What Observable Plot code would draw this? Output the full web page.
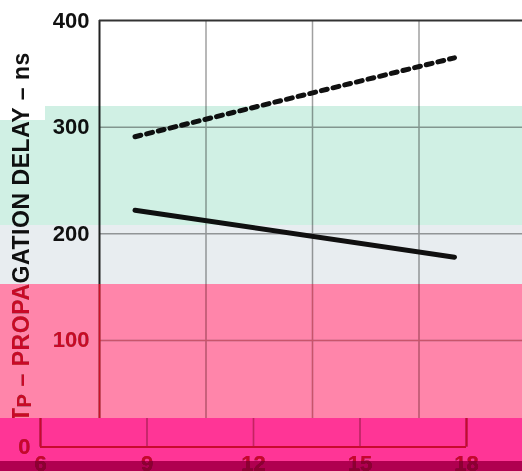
<!DOCTYPE html>
<html><head><meta charset="utf-8">
<script src="https://cdn.jsdelivr.net/npm/d3@7"></script>
<script src="https://cdn.jsdelivr.net/npm/@observablehq/plot@0.6"></script>
<style>
html,body{margin:0;padding:0;background:#fff;}
#wrap{position:relative;width:522px;height:471px;overflow:hidden;isolation:isolate;background:#fff;}
#main{position:absolute;left:0;top:0;width:522px;height:471px;}
#strip{position:absolute;left:0;top:418px;width:522px;height:53px;overflow:hidden;background:#fff;}
#strip > svg{position:absolute;left:-59px;top:-418px;}
.band{position:absolute;left:0;width:522px;pointer-events:none;}
</style></head><body>
<div id="wrap">
  <div id="main"></div>
  <div id="strip"></div>
  <div class="band" style="left:45px;width:477px;top:106px;height:14px;background:rgb(208,240,228);mix-blend-mode:multiply"></div>
  <div class="band" style="top:120px;height:105px;background:rgb(208,240,228);mix-blend-mode:multiply"></div>
  <div class="band" style="top:225px;height:59px;background:rgb(232,237,240);mix-blend-mode:multiply"></div>
  <div class="band" style="top:284px;height:134px;background:rgb(200,0,60);mix-blend-mode:lighten"></div>
  <div class="band" style="top:284px;height:134px;background:rgb(255,133,170);mix-blend-mode:multiply"></div>
  <div class="band" style="top:418px;height:43px;background:rgb(200,0,77);mix-blend-mode:lighten"></div>
  <div class="band" style="top:418px;height:43px;background:rgb(255,53,150);mix-blend-mode:multiply"></div>
  <div class="band" style="top:461px;height:10px;background:rgb(203,0,160);mix-blend-mode:lighten"></div>
  <div class="band" style="top:461px;height:10px;background:rgb(176,0,80);mix-blend-mode:multiply"></div>
</div>
<script>
// ---- data ----
const xTicks = [6, 9, 12, 15, 18];
const yTicks = [0, 100, 200, 300, 400];
const xGrid = [9, 12, 15];
const yGrid = [100, 200, 300];
const xFrame = [6, 18];
const yFrame = [0, 400];
const supplyX = [7, 16];
const dottedDelay = [291, 365];
const solidDelay = [222, 178];
const yTitleMain = "T";
const yTitleSub = "P";
const yTitleRest = " – PROPAGATION DELAY – ns";

const dotted = supplyX.map((x, i) => ({x, y: dottedDelay[i]}));
const solid = supplyX.map((x, i) => ({x, y: solidDelay[i]}));

// isStrip: the shifted copy of the bottom of the chart (only its bottom part is visible)
function makeChart(isStrip) {
  const yLabelTicks = isStrip ? yTicks.slice(0, 1) : yTicks.slice(1);
  const marks = [
    Plot.ruleX(xGrid, {y1: yFrame[0], y2: yFrame[1], stroke: "#a0a0a0", strokeWidth: 1.5}),
    Plot.ruleY(yGrid, {x1: xFrame[0], x2: xFrame[1], stroke: "#a0a0a0", strokeWidth: 1.5}),
    Plot.ruleX(xFrame, {y1: yFrame[0], y2: yFrame[1], stroke: "#222", strokeWidth: 2}),
    Plot.ruleY(yFrame, {x1: xFrame[0], x2: xFrame[1], stroke: "#333", strokeWidth: 2}),
    Plot.axisY(yLabelTicks, {tickSize: 0, tickPadding: 10, fontSize: 22, fontWeight: "bold", fill: "#111", label: null}),
    Plot.line(dotted, {x: "x", y: "y", stroke: "#111", strokeWidth: 5, strokeDasharray: "6 6"}),
    Plot.line(solid, {x: "x", y: "y", stroke: "#111", strokeWidth: 5})
  ];
  if (isStrip) marks.push(Plot.axisX(xTicks, {tickSize: 0, tickPadding: 8, fontSize: 22, fontWeight: "bold", fill: "#111", label: null}));
  const svg = Plot.plot({
    width: 522, height: 471,
    marginLeft: 99, marginRight: 0, marginTop: 20, marginBottom: 24.5,
    x: {domain: [xFrame[0], xFrame[1]], range: [99, 525], axis: null},
    y: {domain: [yFrame[0], yFrame[1]], range: [446.5, 20], axis: null},
    style: {background: "transparent", fontFamily: "'Liberation Sans', Arial, sans-serif", overflow: "visible"},
    marks
  });
  if (!isStrip) {
    const t = d3.select(svg).append("text")
      .attr("transform", "translate(28.5,422) rotate(-90)")
      .attr("text-anchor", "start")
      .attr("font-size", 23).attr("font-weight", "bold")
      .attr("letter-spacing", "0.55px")
      .attr("font-family", "'Liberation Sans', Arial, sans-serif")
      .attr("fill", "#111");
    t.append("tspan").text(yTitleMain);
    t.append("tspan").attr("font-size", 20).attr("dy", 2).text(yTitleSub);
    t.append("tspan").attr("dy", -2).text(yTitleRest);
  }
  return svg;
}
document.getElementById("main").appendChild(makeChart(false));
document.getElementById("strip").appendChild(makeChart(true));
</script>
</body></html>
